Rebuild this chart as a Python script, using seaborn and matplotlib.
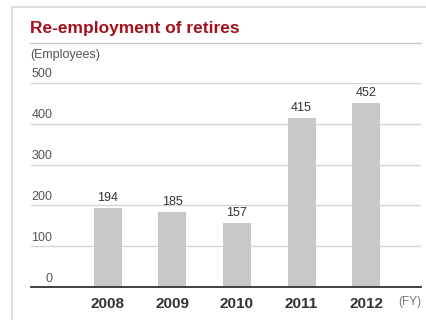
import matplotlib
matplotlib.use("Agg")
import matplotlib.pyplot as plt
from matplotlib.lines import Line2D
from matplotlib.transforms import ScaledTranslation
import seaborn as sns
import pandas as pd

years = ["2008", "2009", "2010", "2011", "2012"]
employees = [194, 185, 157, 415, 452]
y_ticks = [0, 100, 200, 300, 400, 500]
title = "Re-employment of retires"
unit_label = "(Employees)"
x_unit = "(FY)"

sns.set_theme(style="white")
plt.rcParams["font.family"] = ["Liberation Sans", "DejaVu Sans"]

W, H = 427, 320
fig = plt.figure(figsize=(W / 100, H / 100), dpi=100)
fig.patch.set_facecolor("white")

ax = fig.add_axes([31 / W, 1 - 287 / H, (421 - 31) / W, (287 - 83) / H])
df = pd.DataFrame({"year": years, "emp": employees})
sns.barplot(data=df, x="year", y="emp", color="#C8C8C8", width=0.434,
            saturation=1, ax=ax, zorder=3)
for p in ax.patches:
    p.set_edgecolor("none")

ax.set_xlim(-1.19, 4.85)
ax.set_ylim(0, 500)
ax.set_xlabel("")
ax.set_ylabel("")
for s in ["top", "right", "left"]:
    ax.spines[s].set_visible(False)
ax.spines["bottom"].set_color("#333333")
ax.spines["bottom"].set_linewidth(1.3)
ax.spines["bottom"].set_zorder(4)

ax.set_yticks(y_ticks)
ax.set_yticklabels([str(v) for v in y_ticks])
for v in y_ticks[1:]:
    ax.axhline(v, color="#D4D4D4", lw=1, zorder=1)
ax.tick_params(axis="y", length=0, pad=0, labelsize=9, labelcolor="#555555")
off = ScaledTranslation(0.215, 0.10, fig.dpi_scale_trans)
for lab in ax.get_yticklabels():
    lab.set_transform(lab.get_transform() + off)
    lab.set_ha("right")

ax.tick_params(axis="x", length=0, pad=7, labelsize=11, labelcolor="#333333")
for lab in ax.get_xticklabels():
    lab.set_fontweight("bold")

for i, v in enumerate(employees):
    ax.annotate(str(v), (i, v), xytext=(0, 2.5), textcoords="offset points",
                ha="center", va="bottom", fontsize=9, color="#333333")

# frame and heading
fig.lines.append(Line2D([12 / W, 1.0], [1 - 6.5 / H, 1 - 6.5 / H],
                        transform=fig.transFigure, color="#D8D8D8", lw=1.2))
fig.lines.append(Line2D([12.5 / W, 12.5 / W], [0, 1 - 6.5 / H],
                        transform=fig.transFigure, color="#D8D8D8", lw=1.2))
fig.text(30 / W, 1 - 29 / H, title, color="#A5121B", fontsize=12.5,
         fontweight="bold", ha="left", va="center")
fig.lines.append(Line2D([30 / W, 421 / W], [1 - 43 / H, 1 - 43 / H],
                        transform=fig.transFigure, color="#C8C8C8", lw=1))
fig.text(30 / W, 1 - 55 / H, unit_label, color="#555555", fontsize=9,
         ha="left", va="center")
fig.text(398 / W, 1 - 302 / H, x_unit, color="#777777", fontsize=8.5,
         ha="left", va="center")

fig.savefig("out.png", dpi=100)
